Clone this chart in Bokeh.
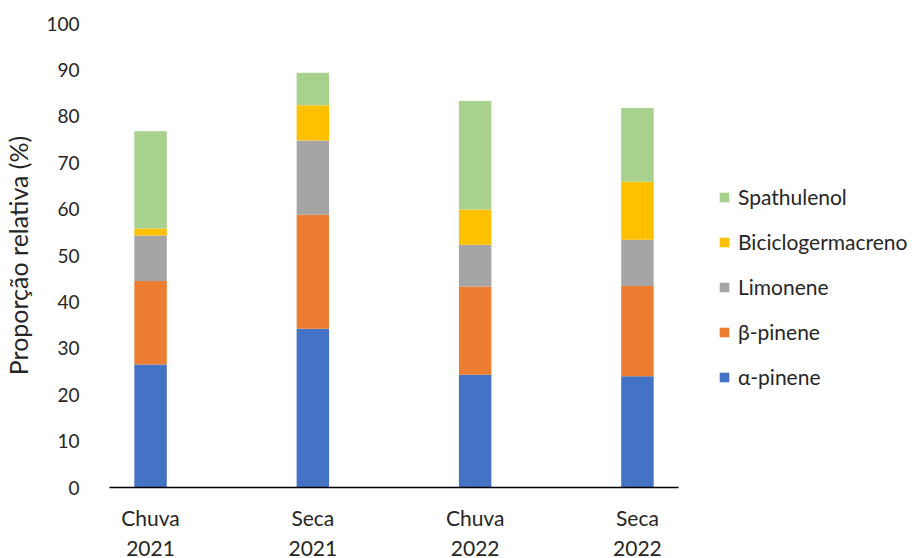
from bokeh.plotting import figure
from bokeh.models import Range1d, FixedTicker, Legend, LegendItem, ColumnDataSource
from bokeh.embed import file_html
from bokeh.resources import INLINE

categories = ["Chuva\n2021", "Seca\n2021", "Chuva\n2022", "Seca\n2022"]
series_names = ["α-pinene", "β-pinene", "Limonene", "Biciclogermacreno", "Spathulenol"]
alpha_pinene = [26.5, 34.2, 24.3, 24.0]
beta_pinene = [18.0, 24.6, 19.0, 19.4]
limonene = [9.8, 16.0, 9.0, 10.0]
biciclogermacreno = [1.5, 7.6, 7.6, 12.5]
spathulenol = [21.0, 7.0, 23.4, 15.9]
colors = ["#4472C4", "#ED7D31", "#A5A5A5", "#FFC000", "#A9D18E"]
y_ticks = [0, 10, 20, 30, 40, 50, 60, 70, 80, 90, 100]

FONT = "Lato"
TXT = "#262626"

xs = list(range(len(categories)))
keys = ["a", "b", "c", "d", "e"]
source = ColumnDataSource(dict(x=xs, a=alpha_pinene, b=beta_pinene, c=limonene,
                               d=biciclogermacreno, e=spathulenol))

p = figure(frame_width=569, frame_height=464, output_backend="svg", toolbar_location=None,
           x_range=Range1d(-0.253, 3.253), y_range=Range1d(0, 100),
           min_border_left=99, min_border_right=238, min_border_top=23,
           min_border_bottom=50)

renderers = p.vbar_stack(keys, x="x", width=0.2, color=colors, source=source,
                         line_color=None)

p.outline_line_color = None
p.xgrid.grid_line_color = None
p.ygrid.grid_line_color = None
p.background_fill_color = "white"
p.border_fill_color = "white"

# x axis
p.xaxis.ticker = FixedTicker(ticks=xs)
p.xaxis.major_label_overrides = {i: c for i, c in enumerate(categories)}
p.xaxis.major_tick_line_color = None
p.xaxis.minor_tick_line_color = None
p.xaxis.axis_line_color = "#000000"
p.xaxis.axis_line_width = 1.5
p.xaxis.major_label_text_font = FONT
p.xaxis.major_label_text_font_size = "21px"
p.xaxis.major_label_text_color = TXT
p.xaxis.major_label_standoff = 11

# y axis
p.yaxis.ticker = FixedTicker(ticks=y_ticks)
p.yaxis.axis_line_color = None
p.yaxis.major_tick_line_color = None
p.yaxis.minor_tick_line_color = None
p.yaxis.major_label_text_font = FONT
p.yaxis.major_label_text_font_size = "19px"
p.yaxis.major_label_text_color = TXT
p.yaxis.major_label_standoff = 24
p.yaxis.axis_label = "Proporção relativa (%)"
p.yaxis.axis_label_text_font = FONT
p.yaxis.axis_label_text_font_size = "25px"
p.yaxis.axis_label_text_font_style = "normal"
p.yaxis.axis_label_text_color = TXT
p.yaxis.axis_label_standoff = 10

items = [LegendItem(label=series_names[i], renderers=[renderers[i]]) for i in range(4, -1, -1)]
legend = Legend(items=items, location=(40, 98), orientation="vertical",
                glyph_width=12, glyph_height=12, label_standoff=8, spacing=20,
                padding=0, margin=0, border_line_color=None,
                background_fill_alpha=0,
                label_text_font=FONT, label_text_font_size="21px",
                label_text_color=TXT)
p.add_layout(legend, "right")

open("out.html", "w").write(file_html(p, INLINE))
